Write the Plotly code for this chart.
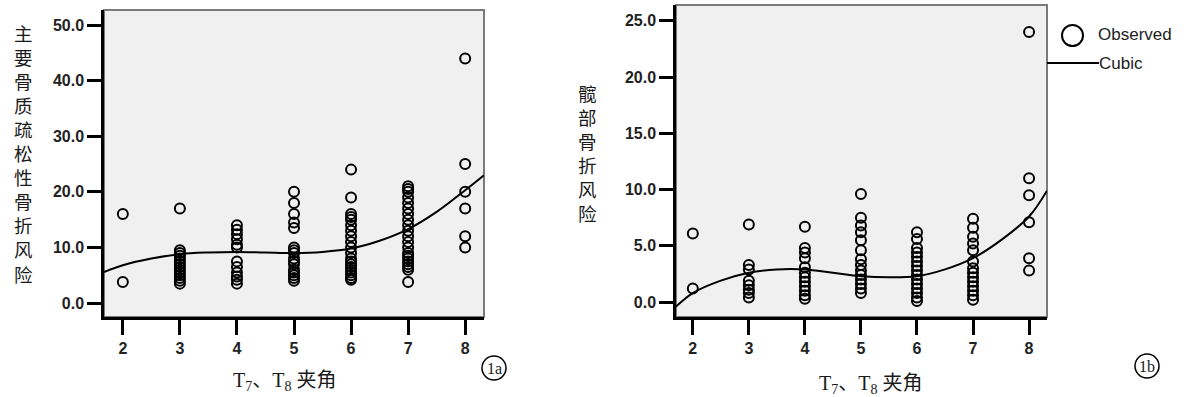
import plotly.graph_objects as go

W, H = 1189, 397

# ---------- Panel 1a data ----------
a_x2 = [16.0, 3.8]
a_x3 = [17.0, 9.5, 9.0, 8.5, 8.0, 7.5, 7.0, 6.5, 6.0, 5.5, 5.0, 4.5, 4.0, 3.5]
a_x4 = [14.0, 13.2, 12.4, 11.5, 10.5, 10.0, 7.5, 6.5, 5.5, 4.8, 4.2, 3.5]
a_x5 = [20.0, 18.0, 16.0, 14.5, 13.5, 10.0, 9.5, 9.0, 8.0, 7.5, 7.0, 6.0, 5.5, 5.0, 4.5, 4.0]
a_x6 = [24.0, 19.0, 16.0, 15.5, 15.0, 14.0, 13.0, 12.0, 11.0, 10.0, 9.0, 8.0, 7.5, 7.0,
        6.5, 6.0, 5.5, 5.0, 4.5, 4.2]
a_x7 = [21.0, 20.5, 20.0, 19.0, 18.0, 17.0, 16.0, 15.0, 14.0, 13.0, 12.0, 11.0, 10.0,
        9.0, 8.5, 8.0, 7.5, 7.0, 6.5, 6.0, 3.8]
a_x8 = [44.0, 25.0, 20.0, 17.0, 12.0, 10.0]
a_groups = {2: a_x2, 3: a_x3, 4: a_x4, 5: a_x5, 6: a_x6, 7: a_x7, 8: a_x8}

a_curve_x = [1.67, 2, 2.5, 3, 3.5, 4, 4.5, 5, 5.5, 6, 6.5, 7, 7.5, 8, 8.33]
a_curve_y = [5.6, 6.8, 8.0, 8.8, 9.1, 9.2, 9.1, 9.0, 9.2, 9.8, 11.2, 13.3, 16.4, 20.3, 23.0]

# ---------- Panel 1b data ----------
b_x2 = [6.1, 1.2]
b_x3 = [6.9, 3.3, 2.9, 1.9, 1.5, 1.1, 0.8, 0.4]
b_x4 = [6.7, 4.8, 4.4, 3.9, 3.1, 2.6, 2.2, 1.8, 1.4, 1.0, 0.6, 0.3]
b_x5 = [9.6, 7.5, 6.8, 6.2, 5.5, 4.6, 3.8, 3.3, 2.8, 2.4, 2.0, 1.6, 1.2, 0.8]
b_x6 = [6.2, 5.6, 4.8, 4.4, 4.0, 3.6, 3.2, 2.8, 2.4, 2.0, 1.6, 1.2, 0.8, 0.4, 0.1]
b_x7 = [7.4, 6.6, 5.8, 5.2, 4.6, 3.6, 3.0, 2.6, 2.2, 1.8, 1.4, 1.0, 0.6, 0.2]
b_x8 = [24.0, 11.0, 9.5, 7.1, 3.9, 2.8]
b_groups = {2: b_x2, 3: b_x3, 4: b_x4, 5: b_x5, 6: b_x6, 7: b_x7, 8: b_x8}

b_curve_x = [1.70, 2, 2.5, 3, 3.5, 4, 4.5, 5, 5.5, 6, 6.5, 7, 7.5, 8, 8.32]
b_curve_y = [-0.4, 0.8, 1.9, 2.6, 2.9, 2.9, 2.6, 2.3, 2.2, 2.3, 2.9, 3.9, 5.5, 7.6, 9.9]

x_ticks = [2, 3, 4, 5, 6, 7, 8]
a_yticks = [0, 10, 20, 30, 40, 50]
b_yticks = [0, 5, 10, 15, 20, 25]

x_title = "T<sub>7</sub>、T<sub>8</sub> 夹角"
a_y_title = "主要骨质疏松性骨折风险"
b_y_title = "髋部骨折风险"
legend_observed = "Observed"
legend_cubic = "Cubic"


def px(x):
    return x / W


def py(y):
    return 1 - y / H


def flat(groups):
    xs, ys = [], []
    for k, vals in groups.items():
        xs += [k] * len(vals)
        ys += vals
    return xs, ys


marker = dict(symbol="circle-open", size=10, color="black", line=dict(width=2, color="black"))

fig = go.Figure()
ax, ay = flat(a_groups)
bx, by = flat(b_groups)
fig.add_trace(go.Scatter(x=ax, y=ay, mode="markers", marker=marker, xaxis="x", yaxis="y"))
fig.add_trace(go.Scatter(x=a_curve_x, y=a_curve_y, mode="lines", line=dict(color="black", width=2, shape="spline"),
                         xaxis="x", yaxis="y"))
fig.add_trace(go.Scatter(x=bx, y=by, mode="markers", marker=marker, xaxis="x2", yaxis="y2"))
fig.add_trace(go.Scatter(x=b_curve_x, y=b_curve_y, mode="lines", line=dict(color="black", width=2, shape="spline"),
                         xaxis="x2", yaxis="y2"))

tickfont = dict(family="Liberation Sans, Arial, sans-serif", size=16, color="#222222", weight="bold")
common_x = dict(tickvals=x_ticks, ticks="outside", ticklen=15, tickwidth=2.5, tickcolor="black",
                showgrid=False, zeroline=False, showline=True, linecolor="black", linewidth=2.5,
                tickfont=tickfont, fixedrange=True)
common_y = dict(ticks="outside", ticklen=14, tickwidth=2.5, tickcolor="black", tickformat=".1f",
                showgrid=False, zeroline=False, showline=True, linecolor="black", linewidth=2.5,
                tickfont=tickfont, fixedrange=True)

fig.update_layout(
    width=W, height=H,
    margin=dict(l=0, r=0, t=0, b=0),
    paper_bgcolor="white",
    plot_bgcolor="#f0f0f0",
    showlegend=False,
    xaxis=dict(domain=[px(104), px(484)], range=[1.67, 8.33], anchor="y", **common_x),
    yaxis=dict(domain=[py(317), py(10)], range=[-2.5, 52.7], tickvals=a_yticks, anchor="x", **common_y),
    xaxis2=dict(domain=[px(676), px(1047)], range=[1.70, 8.32], anchor="y2", **common_x),
    yaxis2=dict(domain=[py(317), py(5)], range=[-1.33, 26.4], tickvals=b_yticks, anchor="x2", **common_y),
)

shapes = []
for xr, yr in (("x domain", "y domain"), ("x2 domain", "y2 domain")):
    shapes.append(dict(type="rect", xref=xr, yref=yr, x0=0, x1=1, y0=0, y1=1,
                       line=dict(color="#7a7a7a", width=2), layer="below"))
# legend symbols
shapes.append(dict(type="circle", xref="paper", yref="paper",
                   x0=px(1062), x1=px(1083), y0=py(46), y1=py(25),
                   line=dict(color="black", width=2)))
shapes.append(dict(type="line", xref="paper", yref="paper",
                   x0=px(1047), x1=px(1099), y0=py(63), y1=py(63),
                   line=dict(color="black", width=2)))
# circled panel labels
for cx, cy in ((494, 368), (1147, 366)):
    shapes.append(dict(type="circle", xref="paper", yref="paper",
                       x0=px(cx - 12), x1=px(cx + 12), y0=py(cy + 12), y1=py(cy - 12),
                       line=dict(color="black", width=1.5)))
fig.update_layout(shapes=shapes)

serif_cjk = "Liberation Serif, Times New Roman, Noto Sans CJK SC, serif"
cjk = "Noto Sans CJK SC, sans-serif"
legend_font = dict(family="Liberation Sans, Arial, sans-serif", size=17, color="#222222")
ann = []
ann.append(dict(text=x_title, x=px(284), y=py(381), xref="paper", yref="paper", showarrow=False,
                font=dict(family=serif_cjk, size=20, color="#1a1a1a"), xanchor="center", yanchor="middle"))
ann.append(dict(text=x_title, x=px(870), y=py(384), xref="paper", yref="paper", showarrow=False,
                font=dict(family=serif_cjk, size=20, color="#1a1a1a"), xanchor="center", yanchor="middle"))
ann.append(dict(text="<br>".join(a_y_title), x=px(23), y=py(154), xref="paper", yref="paper", showarrow=False,
                font=dict(family=cjk, size=18.5, color="#1a1a1a"), xanchor="center", yanchor="middle"))
ann.append(dict(text="<br>".join(b_y_title), x=px(587), y=py(153), xref="paper", yref="paper", showarrow=False,
                font=dict(family=cjk, size=18.5, color="#1a1a1a"), xanchor="center", yanchor="middle"))
ann.append(dict(text=legend_observed, x=px(1096), y=py(34), xref="paper", yref="paper", showarrow=False,
                font=legend_font, xanchor="left", yanchor="middle"))
ann.append(dict(text=legend_cubic, x=px(1097), y=py(64), xref="paper", yref="paper", showarrow=False,
                font=legend_font, xanchor="left", yanchor="middle"))
for lab, cx, cy in (("1a", 494, 368), ("1b", 1147, 366)):
    ann.append(dict(text=lab, x=px(cx), y=py(cy), xref="paper", yref="paper", showarrow=False,
                    font=dict(family="Liberation Serif, serif", size=16, color="#1a1a1a"),
                    xanchor="center", yanchor="middle"))
fig.update_layout(annotations=ann)

fig.write_html("out.html", config={"displayModeBar": False})
